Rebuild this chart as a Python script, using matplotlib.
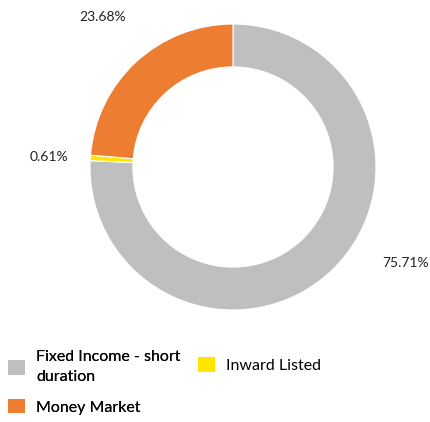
import matplotlib
matplotlib.use('Agg')
import matplotlib.pyplot as plt
from matplotlib.patches import Patch

plt.rcParams['font.family'] = ['Lato', 'DejaVu Sans']

# datos
categorias = ['Fixed Income - short\nduration', 'Inward Listed', 'Money Market']
valores = [75.71, 0.61, 23.68]
colores = ['#BFBFBF', '#FFE600', '#ED7D31']
etiquetas = ['75.71%', '0.61%', '23.68%']
# posicion de etiquetas (en radios del anillo)
pos_etiquetas = [(1.21, -0.67), (-1.29, 0.07), (-0.91, 1.05)]

fig = plt.figure(figsize=(4.30, 4.22), dpi=100)
ax = fig.add_axes([0.2093, 0.2654, 0.6651, 0.6777])

ax.pie(valores, colors=colores, startangle=90, counterclock=False,
       radius=1, wedgeprops=dict(width=0.30, edgecolor='white', linewidth=0.8))
ax.set_xlim(-1, 1)
ax.set_ylim(-1, 1)
ax.set_aspect('equal')
ax.axis('off')

for txt, (x, y) in zip(etiquetas, pos_etiquetas):
    ax.text(x, y, txt, ha='center', va='center', fontsize=10, color='#222222',
            clip_on=False)

# leyenda
h = [Patch(facecolor=c) for c in colores]
leg1 = fig.legend([h[0], h[2]], [categorias[0], categorias[2]],
                  loc='upper left', bbox_to_anchor=(0.019, 0.17),
                  frameon=False, fontsize=11.5, handlelength=1.05,
                  handleheight=1.05, handletextpad=0.7, labelspacing=0.9,
                  borderaxespad=0, borderpad=0.0)
for t in leg1.get_texts():
    t.set_linespacing(1.55)
fig.add_artist(leg1)
fig.legend([h[1]], [categorias[1]],
           loc='center left', bbox_to_anchor=(0.46, 0.135),
           frameon=False, fontsize=11.5, handlelength=1.05, handleheight=1.05,
           handletextpad=0.7, borderaxespad=0, borderpad=0.0)

fig.savefig('out.png', dpi=100)
